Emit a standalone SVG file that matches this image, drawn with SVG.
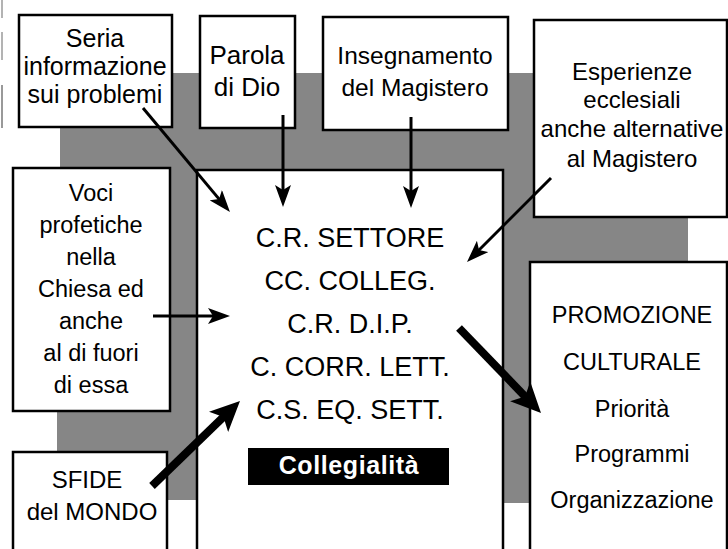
<svg xmlns="http://www.w3.org/2000/svg" width="728" height="549" viewBox="0 0 728 549">
  <defs>
    <style>
      .box { fill: #ffffff; stroke: #000000; stroke-width: 2.5; }
      .shade { fill: #868686; }
      .t { font-family: "Liberation Sans", Arial, Helvetica, sans-serif; fill: #000000; text-anchor: middle; }
      .thin { stroke: #000000; stroke-width: 3; fill: none; marker-end: url(#headThin); }
      .thick { stroke: #000000; stroke-width: 8; fill: none; marker-end: url(#headThick); }
    </style>
    <marker id="headThin" viewBox="0 0 22 16" markerWidth="22" markerHeight="16" refX="11" refY="8" orient="auto" markerUnits="userSpaceOnUse">
      <path d="M0,0 L22,8 L0,16 L5,8 z" fill="#000000"/>
    </marker>
    <marker id="headThick" viewBox="0 0 30 28" markerWidth="30" markerHeight="28" refX="15" refY="14" orient="auto" markerUnits="userSpaceOnUse">
      <path d="M0,0 L30,14 L0,28 L7,14 z" fill="#000000"/>
    </marker>
  </defs>

  <rect width="728" height="549" fill="#ffffff"/>

  <!-- scan edge marks -->
  <g id="edge-marks" stroke="#9a9a9a" stroke-width="1.5">
    <line x1="2" y1="0" x2="2" y2="18"/>
    <line x1="2" y1="32" x2="2" y2="60"/>
    <line x1="2" y1="85" x2="2" y2="128" stroke="#777777"/>
  </g>

  <!-- grey shadow bands -->
  <g id="shadow">
    <rect class="shade" x="60" y="73" width="473" height="98"/>
    <rect class="shade" x="503" y="76" width="30" height="427"/>
    <rect class="shade" x="503" y="217" width="185" height="45"/>
    <rect class="shade" x="167" y="73" width="30" height="427"/>
    <rect class="shade" x="57" y="411" width="140" height="41"/>
  </g>

  <g id="center">
    <rect class="box" x="197" y="170" width="306" height="400"/>
    <text class="t" font-size="27" x="350" y="247">C.R. SETTORE</text>
    <text class="t" font-size="27" x="350" y="290">CC. COLLEG.</text>
    <text class="t" font-size="27" x="350" y="333">C.R. D.I.P.</text>
    <text class="t" font-size="27" x="350" y="376">C. CORR. LETT.</text>
    <text class="t" font-size="27" x="350" y="419">C.S. EQ. SETT.</text>
    <rect x="248" y="448" width="201" height="37" fill="#000000"/>
    <text class="t" font-size="25" font-weight="bold" x="349" y="474" style="fill:#ffffff" letter-spacing="0.6">Collegialità</text>
  </g>

  <g id="seria">
    <rect class="box" x="19" y="15" width="153" height="112"/>
    <text class="t" font-size="25" x="95" y="47">Seria</text>
    <text class="t" font-size="25" x="95" y="75">informazione</text>
    <text class="t" font-size="25" x="95" y="103">sui problemi</text>
  </g>

  <g id="parola">
    <rect class="box" x="200" y="16" width="95" height="112"/>
    <text class="t" font-size="26" x="247" y="64">Parola</text>
    <text class="t" font-size="26" x="247" y="96">di Dio</text>
  </g>

  <g id="insegnamento">
    <rect class="box" x="323" y="17" width="185" height="113"/>
    <text class="t" font-size="24.5" x="415" y="64">Insegnamento</text>
    <text class="t" font-size="24.5" x="415" y="96">del Magistero</text>
  </g>

  <g id="esperienze">
    <rect class="box" x="534" y="20" width="193" height="197"/>
    <text class="t" font-size="24" x="632" y="80">Esperienze</text>
    <text class="t" font-size="24" x="632" y="108">ecclesiali</text>
    <text class="t" font-size="24" x="632" y="137">anche alternative</text>
    <text class="t" font-size="24" x="632" y="167">al Magistero</text>
  </g>

  <g id="voci">
    <rect class="box" x="13" y="168" width="157" height="243"/>
    <text class="t" font-size="23.5" x="91" y="201">Voci</text>
    <text class="t" font-size="23.5" x="91" y="233">profetiche</text>
    <text class="t" font-size="23.5" x="91" y="265">nella</text>
    <text class="t" font-size="23.5" x="91" y="297">Chiesa ed</text>
    <text class="t" font-size="23.5" x="91" y="329">anche</text>
    <text class="t" font-size="23.5" x="91" y="361">al di fuori</text>
    <text class="t" font-size="23.5" x="91" y="393">di essa</text>
  </g>

  <g id="sfide">
    <rect class="box" x="13" y="452" width="154" height="120"/>
    <text class="t" font-size="24" x="87" y="488">SFIDE</text>
    <text class="t" font-size="24" x="92" y="520">del MONDO</text>
  </g>

  <g id="promozione">
    <rect class="box" x="530" y="262" width="197" height="310"/>
    <text class="t" font-size="23.5" x="632" y="323">PROMOZIONE</text>
    <text class="t" font-size="23.5" x="632" y="370">CULTURALE</text>
    <text class="t" font-size="23.5" x="632" y="417">Priorità</text>
    <text class="t" font-size="23.5" x="632" y="462">Programmi</text>
    <text class="t" font-size="23.5" x="632" y="508">Organizzazione</text>
  </g>

  <g id="connectors">
    <line class="thin" x1="143" y1="108" x2="222.9" y2="203.6"/>
    <line class="thin" x1="283" y1="115" x2="283" y2="196"/>
    <line class="thin" x1="411" y1="117" x2="411" y2="197"/>
    <line class="thin" x1="551" y1="178" x2="474.8" y2="254.2"/>
    <line class="thin" x1="153" y1="316" x2="219" y2="316"/>
    <line class="thick" x1="152" y1="486" x2="229.2" y2="411.4"/>
    <line class="thick" x1="459" y1="328" x2="530.6" y2="402.2"/>
  </g>
</svg>
